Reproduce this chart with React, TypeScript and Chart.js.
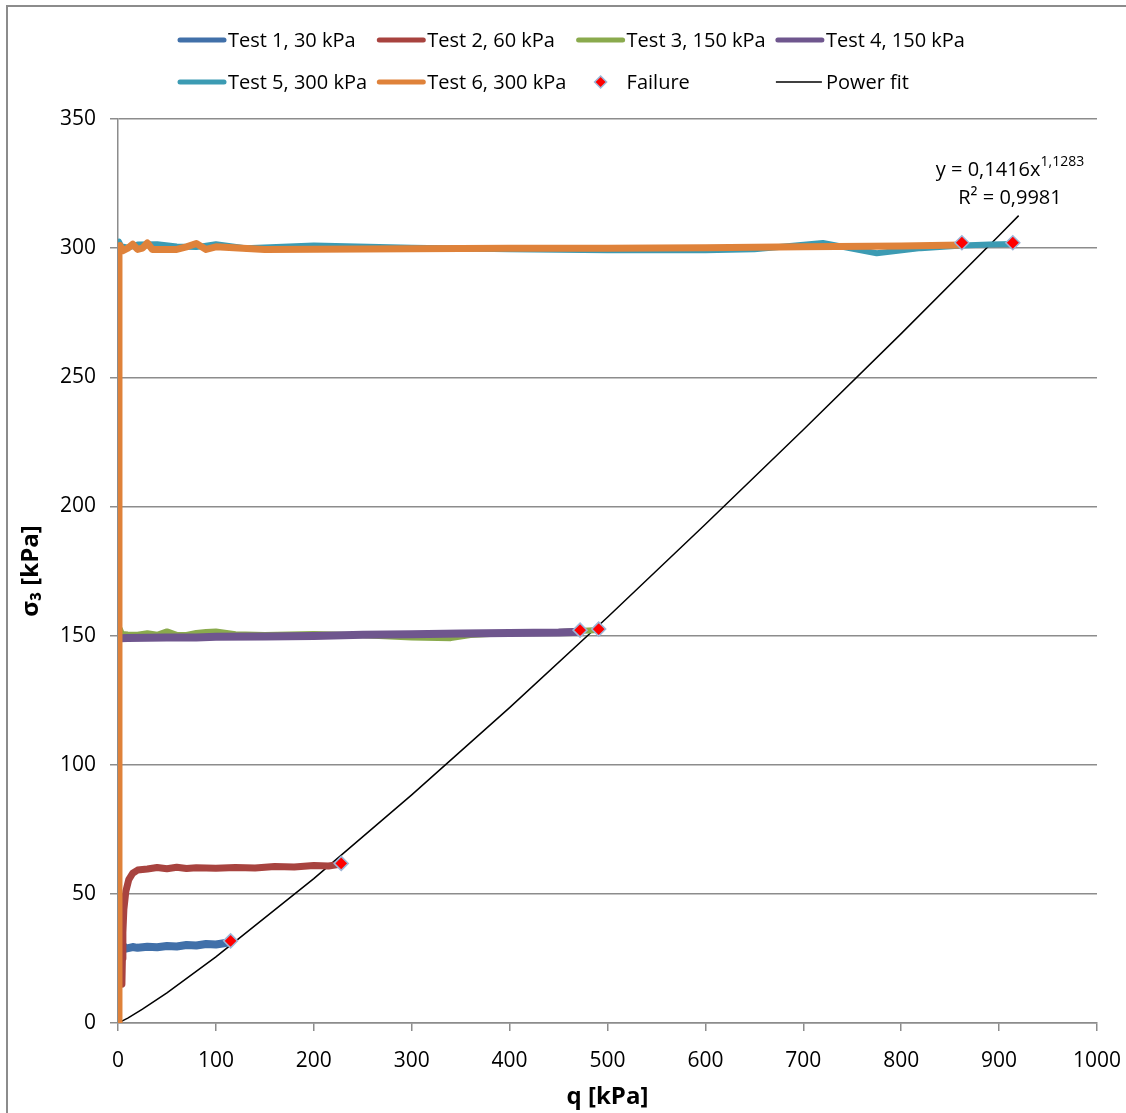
import React, { useEffect, useRef } from "react";
import { Chart, registerables } from "chart.js";

Chart.register(...registerables);

// ---- data ----
const test1Q = [5, 6, 8, 15, 20, 30, 40, 50, 60, 70, 80, 90, 100, 110, 115];
const test1S = [28.2, 29.6, 28.8, 29.4, 29.1, 29.5, 29.3, 29.8, 29.6, 30.2, 30.0, 30.6, 30.4, 31.0, 31.5];

const test2Q = [4, 4.5, 5, 6, 8, 11, 15, 20, 30, 40, 50, 60, 70, 80, 100, 120, 140, 160, 180, 200, 215, 228];
const test2S = [15, 25, 35, 44, 51, 55.5, 58, 59.2, 59.6, 60.2, 59.7, 60.3, 59.8, 60.1, 59.9, 60.2, 60.0, 60.6, 60.4, 61.0, 60.8, 61.5];

const test3Q = [2, 4, 10, 20, 30, 40, 50, 60, 70, 80, 90, 100, 120, 150, 200, 250, 300, 340, 360, 400, 450, 491];
const test3S = [152.5, 150.6, 150.4, 150.3, 150.9, 150.3, 151.6, 150.3, 150.2, 151.0, 151.4, 151.6, 150.5, 150.2, 150.6, 150.1, 149.3, 149.0, 150.2, 151.0, 151.4, 152.2];

const test4Q = [2, 10, 30, 50, 80, 100, 150, 200, 250, 300, 350, 400, 450, 472];
const test4S = [149.0, 149.1, 149.2, 149.3, 149.3, 149.5, 149.6, 149.8, 150.3, 150.5, 150.8, 151.0, 151.2, 151.5];

const test5Q = [1, 3, 10, 20, 40, 60, 80, 100, 130, 200, 300, 400, 500, 600, 650, 720, 775, 820, 862, 890, 914];
const test5S = [302.5, 300.8, 300.2, 301.4, 301.5, 300.6, 300.4, 301.5, 300.0, 301.0, 300.2, 299.6, 299.2, 299.2, 299.6, 302.0, 298.0, 300.0, 301.0, 301.4, 301.6];

const test6Q = [1, 1, 1, 1, 2, 5, 10, 15, 20, 25, 30, 35, 45, 60, 70, 80, 90, 100, 150, 200, 300, 400, 500, 600, 700, 800, 862];
const test6S = [0, 100, 200, 298, 301, 299, 300, 301.5, 299.5, 300, 302, 299.5, 299.5, 299.5, 300.5, 301.8, 299.5, 300.5, 299.5, 299.6, 299.8, 300.0, 300.0, 300.2, 300.5, 300.8, 301.2];

const failureQ = [115, 228, 472, 491, 862, 914];
const failureS = [31.8, 61.8, 152.1, 152.5, 302.1, 302.1];

const fitQ = [0, 10, 25, 50, 100, 200, 300, 400, 500, 600, 700, 800, 900, 920];
const fitS = [0, 1.9, 5.35, 11.7, 25.6, 55.9, 88.3, 122.1, 157.1, 193.1, 229.7, 266.9, 304.9, 312.6];

const xTicks = [0, 100, 200, 300, 400, 500, 600, 700, 800, 900, 1000];
const yTicks = [0, 50, 100, 150, 200, 250, 300, 350];

const seriesNames = [
  "Test 1, 30 kPa",
  "Test 2, 60 kPa",
  "Test 3, 150 kPa",
  "Test 4, 150 kPa",
  "Test 5, 300 kPa",
  "Test 6, 300 kPa",
  "Failure",
  "Power fit",
];
const seriesColors = ["#4170A9", "#A8433F", "#8AAA4D", "#6F568E", "#3C9BB3", "#DF823A", "#FF0000", "#000000"];

const FONT = "'Open Sans', 'Noto Sans', sans-serif";

const pts = (xs: number[], ys: number[]) => xs.map((x, i) => ({ x, y: ys[i] }));

const legendPlugin = {
  id: "customLegend",
  afterDraw(chart: any) {
    const ctx = chart.ctx;
    ctx.save();
    const colStart = 178;
    const colW = 199.3;
    const rows = [40, 82];
    seriesNames.forEach((name, i) => {
      const row = Math.floor(i / 4);
      const col = i % 4;
      const x = colStart + col * colW;
      const y = rows[row];
      if (name === "Failure") {
        const cx = x + 24;
        ctx.beginPath();
        ctx.moveTo(cx, y - 6);
        ctx.lineTo(cx + 6, y);
        ctx.lineTo(cx, y + 6);
        ctx.lineTo(cx - 6, y);
        ctx.closePath();
        ctx.fillStyle = "#FF0000";
        ctx.fill();
        ctx.strokeStyle = "#9BB7D9";
        ctx.lineWidth = 1.5;
        ctx.stroke();
      } else {
        ctx.beginPath();
        ctx.moveTo(x + (name === "Power fit" ? 0 : 2), y);
        ctx.lineTo(x + 46, y);
        ctx.strokeStyle = seriesColors[i];
        ctx.lineWidth = name === "Power fit" ? 1.5 : 5;
        ctx.lineCap = name === "Power fit" ? "butt" : "round";
        ctx.stroke();
      }
      ctx.fillStyle = "#000";
      ctx.font = `20px ${FONT}`;
      ctx.textBaseline = "middle";
      ctx.textAlign = "left";
      ctx.fillText(name, x + 50, y + 1);
    });
    ctx.restore();
  },
};

const annotationPlugin = {
  id: "fitAnnotation",
  afterDraw(chart: any) {
    const ctx = chart.ctx;
    ctx.save();
    ctx.fillStyle = "#000";
    ctx.textBaseline = "alphabetic";
    const base = "y = 0,1416x";
    const sup = "1,1283";
    ctx.font = `20px ${FONT}`;
    const w1 = ctx.measureText(base).width;
    ctx.font = `14px ${FONT}`;
    const w2 = ctx.measureText(sup).width;
    const cx = 1010;
    const left = cx - (w1 + w2) / 2;
    ctx.font = `20px ${FONT}`;
    ctx.textAlign = "left";
    ctx.fillText(base, left, 176);
    ctx.font = `14px ${FONT}`;
    ctx.fillText(sup, left + w1, 166);
    ctx.font = `20px ${FONT}`;
    ctx.textAlign = "center";
    ctx.fillText("R² = 0,9981", cx, 204);
    ctx.restore();
  },
};

export default function App() {
  const canvasRef = useRef<HTMLCanvasElement | null>(null);

  useEffect(() => {
    if (!canvasRef.current) return;
    const lineDs = (i: number, xs: number[], ys: number[], order: number, width = 5) => ({
      label: seriesNames[i],
      data: pts(xs, ys),
      borderColor: seriesColors[i],
      backgroundColor: seriesColors[i],
      borderWidth: width,
      pointRadius: 0,
      showLine: true,
      tension: 0,
      borderJoinStyle: "round" as const,
      borderCapStyle: "round" as const,
      order,
    });
    const chart = new Chart(canvasRef.current, {
      type: "scatter",
      data: {
        datasets: [
          lineDs(0, test1Q, test1S, 6, 8),
          lineDs(1, test2Q, test2S, 5, 7),
          lineDs(2, test3Q, test3S, 4, 6),
          lineDs(3, test4Q, test4S, 3, 8),
          lineDs(4, test5Q, test5S, 2, 6),
          lineDs(5, test6Q, test6S, 1, 7),
          {
            label: seriesNames[6],
            data: pts(failureQ, failureS),
            pointStyle: "rectRot",
            pointRadius: 7,
            pointBackgroundColor: "#FF0000",
            pointBorderColor: "#9BB7D9",
            pointBorderWidth: 1.5,
            showLine: false,
            order: 0,
          },
          {
            label: seriesNames[7],
            data: pts(fitQ, fitS),
            borderColor: "#000000",
            borderWidth: 1.5,
            pointRadius: 0,
            showLine: true,
            tension: 0,
            order: 7,
          },
        ],
      },
      options: {
        responsive: false,
        animation: false,
        devicePixelRatio: 1,
        layout: { padding: { left: 13, top: 119, right: 29, bottom: 0 } },
        plugins: {
          legend: { display: false },
          tooltip: { enabled: false },
        },
        scales: {
          x: {
            type: "linear",
            min: 0,
            max: 1000,
            afterBuildTicks: (scale: any) => {
              scale.ticks = xTicks.map((v) => ({ value: v }));
            },
            afterFit: (scale: any) => {
              scale.height = 90;
              scale.paddingRight = 0;
              scale.paddingLeft = 0;
            },
            ticks: {
              color: "#000",
              font: { family: FONT, size: 21 },
              padding: 17,
              maxRotation: 0,
              autoSkip: false,
              callback: (v: any) => String(v),
            },
            grid: { color: "rgba(0,0,0,0)", tickColor: "#8C8C8C", tickLength: 8, lineWidth: 1.5 },
            border: { color: "#8C8C8C", width: 1.5 },
            title: {
              display: true,
              text: "q [kPa]",
              color: "#000",
              padding: { top: 4, bottom: 1 },
              font: { family: FONT, size: 24, weight: "bold" },
            },
          },
          y: {
            type: "linear",
            min: 0,
            max: 350,
            afterBuildTicks: (scale: any) => {
              scale.ticks = yTicks.map((v) => ({ value: v }));
            },
            afterFit: (scale: any) => {
              scale.width = 105;
            },
            ticks: {
              color: "#000",
              font: { family: FONT, size: 21 },
              padding: 14,
              autoSkip: false,
              callback: (v: any) => String(v),
            },
            grid: { color: "#8C8C8C", tickColor: "#8C8C8C", tickLength: 8, lineWidth: 1.5 },
            border: { color: "#8C8C8C", width: 1.5 },
            title: {
              display: true,
              text: "σ₃ [kPa]",
              color: "#000",
              padding: { top: 4, bottom: 4 },
              font: { family: FONT, size: 24, weight: "bold" },
            },
          },
        },
      },
      plugins: [legendPlugin, annotationPlugin],
    } as any);
    return () => chart.destroy();
  }, []);

  return (
    <div style={{ position: "absolute", left: 0, top: 0, width: 1126, height: 1113, overflow: "hidden", background: "#fff" }}>
      <div
        style={{
          position: "absolute",
          left: 6,
          top: 5,
          width: 1140,
          height: 1130,
          borderLeft: "2px solid #8C8C8C",
          borderTop: "2px solid #8C8C8C",
          boxSizing: "border-box",
        }}
      />
      <canvas ref={canvasRef} width={1126} height={1113} style={{ position: "absolute", left: 0, top: 0, width: 1126, height: 1113 }} />
    </div>
  );
}
